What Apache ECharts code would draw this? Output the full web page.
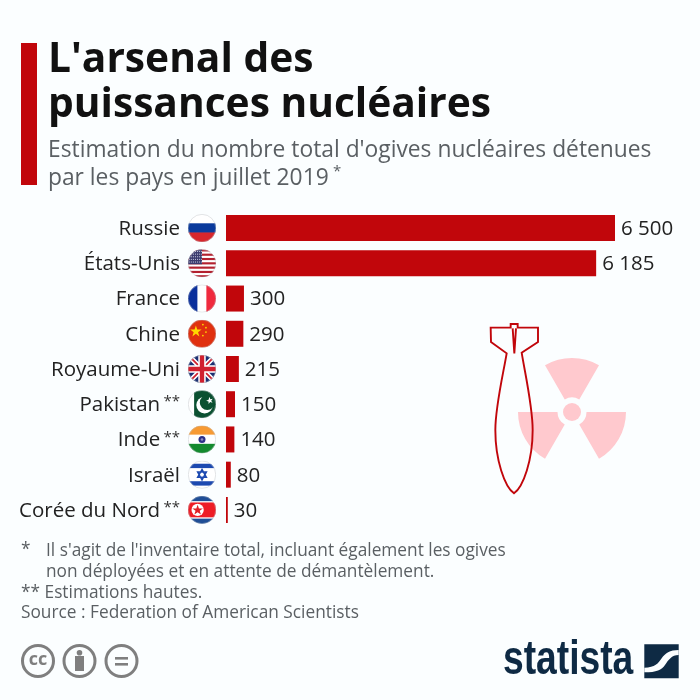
<!DOCTYPE html>
<html>
<head>
<meta charset="utf-8">
<style>
  html, body { margin: 0; padding: 0; background: #fbfeff; }
  #chart { width: 700px; height: 700px; }
</style>
<script src="https://cdn.jsdelivr.net/npm/echarts@6/dist/echarts.min.js"></script>
</head>
<body>
<div id="chart"></div>
<script>
const countries = ['Russie', 'États-Unis', 'France', 'Chine', 'Royaume-Uni', 'Pakistan', 'Inde', 'Israël', 'Corée du Nord']
const marks = ['', '', '', '', '', '**', '**', '', '**']
const warheads = [6500, 6185, 300, 290, 215, 150, 140, 80, 30]
const titleLines = ["L'arsenal des", 'puissances nucléaires']
const subtitleLines = ["Estimation du nombre total d'ogives nucléaires détenues", 'par les pays en juillet 2019']
const notes = [
  "Il s'agit de l'inventaire total, incluant également les ogives",
  'non déployées et en attente de démantèlement.',
  '** Estimations hautes.',
  'Source : Federation of American Scientists'
]

const RED = '#c1060b'
const FONT = '"Open Sans", sans-serif'
const GREY = '#5a5f63'
const NAVY = '#0e2a44'
const BG = '#fbfeff'
const CC_GREY = '#7f7f7f'

// drapeaux en svg, coupés en cercle
const flagBody = [
  // Russie
  '<rect width="64" height="22" fill="#fff"/><rect y="21" width="64" height="22" fill="#0a3a9c"/><rect y="42" width="64" height="22" fill="#d8262c"/>',
  // États-Unis
  '<rect width="64" height="64" fill="#fff"/>' +
    [0, 1, 2, 3, 4, 5, 6].map(i => `<rect y="${i * 9.85}" width="64" height="4.9" fill="#b3202f"/>`).join('') +
    '<rect width="32" height="34" fill="#3c3b6e"/>' +
    '<path d="M3 5H32M3 11H32M3 17H32M3 23H32M3 29H32" stroke="#dfe3f0" stroke-width="2.2" stroke-dasharray="2 2.4"/>',
  // France
  '<rect width="22" height="64" fill="#0a2f9c"/><rect x="22" width="20" height="64" fill="#fff"/><rect x="42" width="22" height="64" fill="#f02a3e"/>',
  // Chine
  '<rect width="64" height="64" fill="#e0300f"/><path d="M18 13l3 9.5h10l-8 6 3 9.5-8-6-8 6 3-9.5-8-6h10z" fill="#ffd900"/>' +
    '<circle cx="34" cy="11" r="2" fill="#ffd900"/><circle cx="41" cy="18" r="2" fill="#ffd900"/><circle cx="41" cy="28" r="2" fill="#ffd900"/><circle cx="34" cy="36" r="2" fill="#ffd900"/>',
  // Royaume-Uni
  '<rect width="64" height="64" fill="#1b2f72"/><path d="M0 0L64 64M64 0L0 64" stroke="#fff" stroke-width="11"/><path d="M0 0L64 64M64 0L0 64" stroke="#d0202f" stroke-width="4"/>' +
    '<path d="M32 0V64M0 32H64" stroke="#fff" stroke-width="17"/><path d="M32 0V64M0 32H64" stroke="#d0202f" stroke-width="10"/>',
  // Pakistan
  '<rect width="64" height="64" fill="#fff"/><rect x="14" width="50" height="64" fill="#0b5031"/><circle cx="38" cy="34" r="19" fill="#fff"/><circle cx="44" cy="28" r="17" fill="#0b5031"/>' +
    '<path d="M49 15l2 5.5 5.5-1-3.5 4.5 3 4.5-5.5-1.5-3.5 4.5 0-5.5-5.5-2 5.5-2z" fill="#fff"/>',
  // Inde
  '<rect width="64" height="22" fill="#f79a33"/><rect y="21" width="64" height="22" fill="#fff"/><rect y="42" width="64" height="22" fill="#148a2e"/><circle cx="32" cy="32" r="8" fill="#2c2f86"/><circle cx="32" cy="32" r="3" fill="#8f90c4"/>',
  // Israël
  '<rect width="64" height="64" fill="#fff"/><rect y="7" width="64" height="10" fill="#1c49b0"/><rect y="47" width="64" height="10" fill="#1c49b0"/>' +
    '<path d="M32 20L42 38H22ZM32 44L22 26H42Z" fill="none" stroke="#1c49b0" stroke-width="3.4"/>',
  // Corée du Nord
  '<rect width="64" height="64" fill="#fff"/><rect width="64" height="12" fill="#1f4e96"/><rect y="52" width="64" height="12" fill="#1f4e96"/><rect y="15" width="64" height="34" fill="#ee1c25"/>' +
    '<circle cx="22" cy="32" r="14" fill="#fff"/><path d="M22 20l3 8.6h9l-7.2 5.4 2.7 8.6-7.5-5.3-7.5 5.3 2.7-8.6-7.2-5.4h9z" fill="#e01f26"/>'
]

const flagUri = body => 'data:image/svg+xml;charset=utf-8,' + encodeURIComponent(
  '<svg xmlns="http://www.w3.org/2000/svg" width="128" height="128" viewBox="0 0 64 64">' +
  '<defs><clipPath id="c"><circle cx="32" cy="32" r="32"/></clipPath></defs>' +
  `<g clip-path="url(#c)">${body}</g><circle cx="32" cy="32" r="31.4" fill="none" stroke="#bcc1c5" stroke-width="1"/></svg>`
)

const text = (x, y, str, size, fill, weight) => ({
  type: 'text',
  x,
  y,
  silent: true,
  style: { text: str, fill, font: `${weight || 400} ${size}px ${FONT}`, textVerticalAlign: 'middle' }
})

const sector = (start, end) => ({
  type: 'sector',
  silent: true,
  shape: { cx: 572, cy: 412, r: 54, r0: 14.5, startAngle: start * Math.PI / 180, endAngle: end * Math.PI / 180 },
  style: { fill: '#ffc9ce' }
})

const ring = cx => ({
  type: 'circle',
  silent: true,
  shape: { cx, cy: 661, r: 15.5 },
  style: { fill: 'none', stroke: CC_GREY, lineWidth: 3 }
})

const chart = echarts.init(document.getElementById('chart'))

chart.setOption({
  backgroundColor: BG,
  animation: false,
  grid: { left: 226, top: 210.5, width: 389, height: 317 },
  xAxis: { type: 'value', min: 0, max: 6500, show: false },
  yAxis: {
    type: 'category',
    inverse: true,
    data: countries,
    axisLine: { show: false },
    axisTick: { show: false },
    axisLabel: {
      margin: 46,
      align: 'right',
      padding: [2, 0, 0, 0],
      formatter: (value, i) => marks[i] ? `{n|${value}} {s|${marks[i]}}` : `{n|${value}}`,
      rich: {
        n: { fontFamily: FONT, fontSize: 20.5, color: '#222' },
        s: { fontFamily: FONT, fontSize: 15, color: '#333', verticalAlign: 'top', padding: [0, 0, 6, 0] }
      }
    }
  },
  series: [
    {
      type: 'bar',
      data: warheads,
      barWidth: 26,
      itemStyle: { color: RED },
      label: {
        show: true,
        position: 'right',
        distance: 6,
        offset: [0, 1],
        fontFamily: FONT,
        fontSize: 20.5,
        color: '#222',
        formatter: p => String(p.value).replace(/\B(?=(\d{3})+$)/g, ' ')
      }
    },
    {
      type: 'custom',
      data: countries.map((c, i) => i),
      encode: { y: 0 },
      silent: true,
      renderItem: (params, api) => {
        const p = api.coord([0, api.value(0)])
        return {
          type: 'image',
          style: { image: flagUri(flagBody[params.dataIndex]), x: p[0] - 38, y: p[1] - 14, width: 28, height: 28 }
        }
      }
    },
    {
      // bombe et logo, le composant graphic ne sait pas dessiner un path
      type: 'custom',
      data: [0],
      encode: { y: 0 },
      silent: true,
      renderItem: () => ({
        type: 'group',
        children: [
          {
            type: 'path',
            shape: {
              pathData: 'M62 53H122V42H143V53H204V96L155 128C165 190 188 290 188 360C188 450 160 530 132 550C104 530 76 450 76 360C76 290 100 190 110 130L63 96ZM128 55L133 130L138 55',
              x: 490.67, y: 324, width: 47.33, height: 169.33
            },
            style: { fill: 'none', stroke: RED, lineWidth: 1.9 }
          },
          {
            type: 'rect',
            shape: { x: 644.3, y: 644.3, width: 34.4, height: 34 },
            style: { fill: NAVY }
          },
          {
            type: 'path',
            shape: {
              pathData: 'M448 98C480 98 490 85 500 70C510 55 525 45 551 45V60C530 60 520 75 510 90C500 105 485 112 448 112Z',
              x: 644.33, y: 650, width: 34.33, height: 22.33
            },
            style: { fill: BG }
          }
        ]
      })
    }
  ],
  graphic: [
    { type: 'rect', silent: true, shape: { x: 21, y: 43, width: 16, height: 142 }, style: { fill: RED } },
    text(48, 60, titleLines[0], 40.7, '#111', 700),
    text(48, 105, titleLines[1], 40.7, '#111', 700),
    text(48, 151, subtitleLines[0], 22.8, GREY),
    text(48, 179, subtitleLines[1], 22.8, GREY),
    text(333, 172, '*', 15, GREY),
    sector(-120, -60),
    sector(0, 60),
    sector(120, 180),
    { type: 'circle', silent: true, shape: { cx: 572, cy: 412, r: 9 }, style: { fill: '#ffc9ce' } },
    text(21, 550, '*', 17.3, GREY),
    text(46, 551, notes[0], 17.3, GREY),
    text(46, 572, notes[1], 17.3, GREY),
    text(21, 593, notes[2], 17.3, GREY),
    text(21, 613, notes[3], 17.3, GREY),
    // licence cc
    ring(38),
    { type: 'text', silent: true, x: 38, y: 660, style: { text: 'cc', fill: CC_GREY, font: `700 18px ${FONT}`, textAlign: 'center', textVerticalAlign: 'middle' } },
    ring(79.5),
    { type: 'circle', silent: true, shape: { cx: 79.5, cy: 652.7, r: 2.8 }, style: { fill: CC_GREY } },
    { type: 'rect', silent: true, shape: { x: 75, y: 656, width: 9, height: 15 }, style: { fill: CC_GREY } },
    ring(121.5),
    { type: 'rect', silent: true, shape: { x: 115, y: 657, width: 13, height: 2.6 }, style: { fill: CC_GREY } },
    { type: 'rect', silent: true, shape: { x: 115, y: 663, width: 13, height: 2.6 }, style: { fill: CC_GREY } },
    // logo, étroit faute de police condensée
    { type: 'text', silent: true, x: 503, y: 661, scaleX: 0.775, style: { text: 'statista', fill: NAVY, font: '700 48px "Liberation Sans", sans-serif', textVerticalAlign: 'middle' } }
  ]
})
</script>
</body>
</html>
